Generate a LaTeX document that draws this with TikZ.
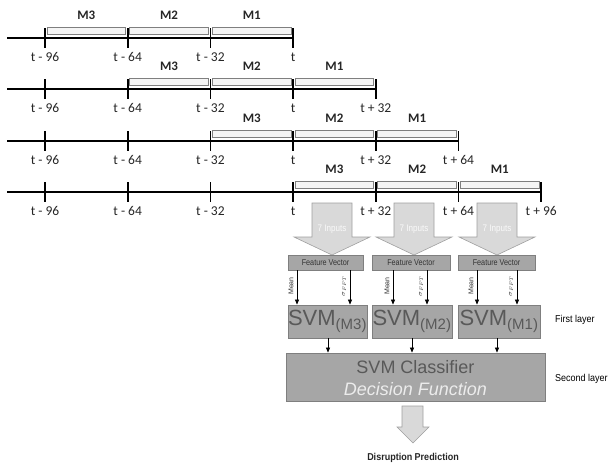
\documentclass[tikz,border=0pt]{standalone}
\usepackage{fontspec}
\setmainfont{Liberation Sans}
\newfontfamily\calfont{Carlito}
\usetikzlibrary{arrows.meta,calc}
\definecolor{boxgray}{HTML}{A6A6A6}
\definecolor{boxedge}{HTML}{7F7F7F}
\definecolor{arrowfill}{HTML}{D9D9D9}
\definecolor{arrowedge}{HTML}{A0A0A0}
\definecolor{svmtext}{HTML}{595959}
\tikzset{
  axisline/.style={line width=1.6pt, black},
  winbox/.style={draw=boxedge, fill=gray!8, line width=0.8pt},
  ticklabel/.style={font=\calfont\fontsize{13.5}{13.5}\selectfont, inner sep=0pt, text=black!85},
  mlabel/.style={font=\calfont\bfseries\fontsize{13}{13}\selectfont, inner sep=0pt, text=black!85},
  bigarrow/.style={fill=arrowfill, draw=arrowedge, line width=0.6pt},
  fvbox/.style={draw=boxedge, fill=boxgray, line width=0.8pt, minimum height=15pt, inner sep=0pt,
    font=\fontsize{8.5}{8.5}\selectfont\addfontfeature{FakeStretch=0.85}, text=black!80},
  svmbox/.style={draw=boxedge, fill=boxgray, line width=0.8pt, inner sep=0pt, text=svmtext},
  smallarr/.style={-{Triangle[length=5pt,width=4pt]}, line width=0.6pt, black},
  sidelabel/.style={font=\fontsize{10}{10}\selectfont\addfontfeature{FakeStretch=0.9}, anchor=west, inner sep=0pt},
  rotlabel/.style={rotate=90, font=\fontsize{7}{7}\selectfont, inner sep=0pt, text=black!80},
  inlabel/.style={font=\fontsize{9.5}{9.5}\selectfont\addfontfeature{FakeStretch=0.85}, text=gray!5, inner sep=0pt},
}
\begin{document}
\begin{tikzpicture}[x=1pt,y=-1pt]
\useasboundingbox (0,0) rectangle (614,469);
% tick positions
\foreach \k in {0,...,6} {\pgfmathsetmacro{\tx}{45+82.7*\k}\expandafter\xdef\csname tx\k\endcsname{\tx}}
\def\tlab#1{\ifcase#1 t - 96\or t - 64\or t - 32\or t\or t + 32\or t + 64\or t + 96\fi}
% timelines
\foreach \r/\ly in {0/38,1/89,2/141,3/192} {
  \pgfmathtruncatemacro{\last}{3+\r}
  \coordinate (L\r) at (7,\ly);
  \coordinate (E\r) at (\csname tx\last\endcsname,\ly);
  \draw[axisline] (L\r) -- (E\r);
  \foreach \k in {0,...,\last} {
    \coordinate (T\r\k) at (\csname tx\k\endcsname,\ly);
    \draw[axisline] ([yshift=10pt]T\r\k) -- ([yshift=-10pt]T\r\k);
    \node[ticklabel] (TL\r\k) at ([yshift=-19pt]T\r\k) {\tlab{\k}};
  }
  \foreach \m/\off in {M3/0,M2/1,M1/2} {
    \pgfmathtruncatemacro{\a}{\r+\off}
    \pgfmathtruncatemacro{\b}{\r+\off+1}
    \draw[winbox] ([xshift=2pt,yshift=11pt]T\r\a) rectangle ([xshift=-2pt,yshift=3.5pt]T\r\b);
    \node[mlabel] (ML\r\m) at ($([yshift=23pt]T\r\a)!0.5!([yshift=23pt]T\r\b)$) {\m};
  }
}
% big input arrows
\foreach \i/\cx in {1/332,2/414,3/497} {
  \draw[bigarrow] (\cx-20,203) -- (\cx+20,203) -- (\cx+20,237) -- (\cx+38,237) -- (\cx,255)
    -- (\cx-38,237) -- (\cx-20,237) -- cycle;
  \node[inlabel] (in\i) at (\cx,229) {7 Inputs};
}
% feature vector boxes
\node[fvbox, minimum width=75pt] (fv1) at (325.5,262.5) {Feature Vector};
\node[fvbox, minimum width=78pt] (fv2) at (411,262.5) {Feature Vector};
\node[fvbox, minimum width=77pt] (fv3) at (496.5,262.5) {Feature Vector};
% first layer SVMs
\node[svmbox, minimum width=79pt, minimum height=33pt] (svm1) at (327.5,321.5) {\fontsize{22}{22}\selectfont SVM\textsubscript{\fontsize{15}{15}\selectfont(M3)}};
\node[svmbox, minimum width=80pt, minimum height=33pt] (svm2) at (412,321.5) {\fontsize{22}{22}\selectfont SVM\textsubscript{\fontsize{15}{15}\selectfont(M2)}};
\node[svmbox, minimum width=82pt, minimum height=33pt] (svm3) at (499,321.5) {\fontsize{22}{22}\selectfont SVM\textsubscript{\fontsize{15}{15}\selectfont(M1)}};
% arrows FV -> SVM
\foreach \i/\xa/\xb in {1/297/350,2/393/427,3/477/517} {
  \draw[smallarr] (fv\i.south -| \xa,0) -- (svm\i.north -| \xa,0);
  \draw[smallarr] (fv\i.south -| \xb,0) -- (svm\i.north -| \xb,0);
  \node[rotlabel] (mean\i) at (\xa-6,286) {Mean};
  \node[rotlabel] (sig\i) at (\xb-6,286) {$\sigma_{FFT}$};
}
% classifier
\node[svmbox, minimum width=259pt, minimum height=48pt] (cls) at (415.5,377) {};
\node[text=svmtext, font=\fontsize{18}{18}\selectfont, inner sep=0pt] (clsA) at (415.5,367) {SVM Classifier};
\node[text=gray!15, font=\fontsize{18}{18}\selectfont\itshape, inner sep=0pt] (clsB) at (415.5,389) {Decision Function};
\foreach \i/\x in {1/328,2/412,3/497}
  \draw[smallarr] (svm\i.south -| \x,0) -- (cls.north -| \x,0);
% output arrow
\draw[bigarrow] (402,406) -- (423,406) -- (423,427) -- (429,427) -- (413,443) -- (397,427) -- (402,427) -- cycle;
\node[font=\bfseries\fontsize{10}{10}\selectfont\addfontfeature{FakeStretch=0.9}, text=black!85, inner sep=0pt] (out) at (413,458) {Disruption Prediction};
% layer labels
\node[sidelabel] (first) at (555,320) {First layer};
\node[sidelabel] (second) at (555,379) {Second layer};
\end{tikzpicture}
\end{document}
